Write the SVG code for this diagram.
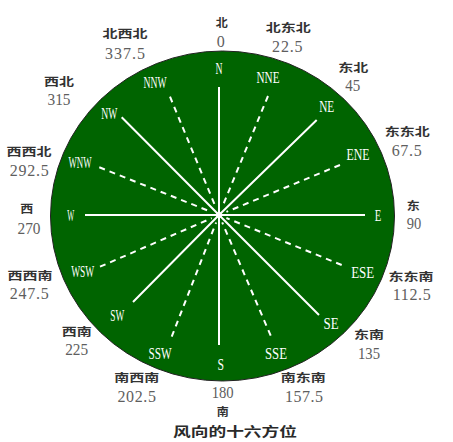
<svg xmlns="http://www.w3.org/2000/svg" width="453" height="442" viewBox="0 0 453 442">
<style>
.in{font-family:"Liberation Serif","Times New Roman",serif;font-size:16px;fill:#ffffff;text-anchor:middle}
.num{font-family:"Liberation Serif","Times New Roman",serif;font-size:16px;fill:#5e5e5e;text-anchor:middle}
.cn{font-family:"Noto Sans CJK SC","Noto Sans",sans-serif;font-size:11px;font-weight:bold;fill:#333333;text-anchor:middle}
.ttl{font-family:"Noto Sans CJK SC","Noto Sans",sans-serif;font-size:13px;font-weight:bold;fill:#2a2a2a;text-anchor:middle}
.solid{stroke:#ffffff;stroke-width:2;fill:none}
.dash{stroke:#ffffff;stroke-width:2;fill:none;stroke-dasharray:6 5}
</style>
<rect width="453" height="442" fill="#ffffff"/>
<g id="dial">
<ellipse cx="222.5" cy="216" rx="172" ry="165" fill="#006400" stroke="#222222" stroke-width="1"/>
</g>
<g id="connectors">
<path class="solid" d="M219 87V215M219 215V345M85 215H365M121.7 117.3L219 215M316.7 120L219 215M319 315L219 215M133 302L219 215"/>
<path class="dash" d="M268 96L222 207.6M170 96.7L215.9 207.6M99.3 167.3L211.6 212M340 165L226.4 211.9M100 266.7L211.7 218.2M341.7 265L226.4 218M171.7 336.7L216.1 222.5M270.7 335.7L222.2 222.4"/>
<circle cx="219" cy="215" r="3" fill="#ffffff"/>
</g>
<g id="dir-N"><text class="in" x="219" y="74.3" textLength="7" lengthAdjust="spacingAndGlyphs">N</text><text class="cn" x="221.7" y="27" textLength="12" lengthAdjust="spacingAndGlyphs">北</text><text class="num" x="220.7" y="47">0</text></g>
<g id="dir-NNE"><text class="in" x="268" y="83" textLength="23" lengthAdjust="spacingAndGlyphs">NNE</text><text class="cn" x="288.3" y="32.3" textLength="45" lengthAdjust="spacingAndGlyphs">北东北</text><text class="num" x="287.3" y="52" textLength="30.5">22.5</text></g>
<g id="dir-NE"><text class="in" x="326.7" y="112" textLength="15" lengthAdjust="spacingAndGlyphs">NE</text><text class="cn" x="353.3" y="72.3" textLength="30" lengthAdjust="spacingAndGlyphs">东北</text><text class="num" x="352.7" y="91.4" textLength="15" lengthAdjust="spacingAndGlyphs">45</text></g>
<g id="dir-ENE"><text class="in" x="358" y="160.3" textLength="23" lengthAdjust="spacingAndGlyphs">ENE</text><text class="cn" x="407.3" y="136.3" textLength="45" lengthAdjust="spacingAndGlyphs">东东北</text><text class="num" x="406.7" y="156" textLength="30">67.5</text></g>
<g id="dir-E"><text class="in" x="378" y="221" textLength="6.5" lengthAdjust="spacingAndGlyphs">E</text><text class="cn" x="413.3" y="210" textLength="13" lengthAdjust="spacingAndGlyphs">东</text><text class="num" x="414" y="229.4" textLength="14.5" lengthAdjust="spacingAndGlyphs">90</text></g>
<g id="dir-ESE"><text class="in" x="362.7" y="278" textLength="23" lengthAdjust="spacingAndGlyphs">ESE</text><text class="cn" x="411" y="281.3" textLength="45" lengthAdjust="spacingAndGlyphs">东东南</text><text class="num" x="411.7" y="300.4" textLength="38">112.5</text></g>
<g id="dir-SE"><text class="in" x="331" y="329.3" textLength="15" lengthAdjust="spacingAndGlyphs">SE</text><text class="cn" x="369" y="339" textLength="30" lengthAdjust="spacingAndGlyphs">东南</text><text class="num" x="369" y="358.7" textLength="22" lengthAdjust="spacingAndGlyphs">135</text></g>
<g id="dir-SSE"><text class="in" x="276" y="358.6" textLength="22" lengthAdjust="spacingAndGlyphs">SSE</text><text class="cn" x="303.3" y="382.3" textLength="45" lengthAdjust="spacingAndGlyphs">南东南</text><text class="num" x="304" y="402" textLength="38">157.5</text></g>
<g id="dir-S"><text class="in" x="220.7" y="369.6" textLength="6.5" lengthAdjust="spacingAndGlyphs">S</text><text class="num" x="222.7" y="398" textLength="22" lengthAdjust="spacingAndGlyphs">180</text><text class="cn" x="222.7" y="416.3" textLength="12" lengthAdjust="spacingAndGlyphs">南</text></g>
<g id="dir-SSW"><text class="in" x="160" y="358.6" textLength="23" lengthAdjust="spacingAndGlyphs">SSW</text><text class="cn" x="136.7" y="382.3" textLength="45" lengthAdjust="spacingAndGlyphs">南西南</text><text class="num" x="136.7" y="402" textLength="38.5">202.5</text></g>
<g id="dir-SW"><text class="in" x="117.3" y="321.3" textLength="14" lengthAdjust="spacingAndGlyphs">SW</text><text class="cn" x="76.7" y="335.7" textLength="30" lengthAdjust="spacingAndGlyphs">西南</text><text class="num" x="76.7" y="355.4" textLength="23" lengthAdjust="spacingAndGlyphs">225</text></g>
<g id="dir-WSW"><text class="in" x="82.7" y="277" textLength="23" lengthAdjust="spacingAndGlyphs">WSW</text><text class="cn" x="30" y="280" textLength="45" lengthAdjust="spacingAndGlyphs">西西南</text><text class="num" x="29.3" y="299.4" textLength="39">247.5</text></g>
<g id="dir-W"><text class="in" x="70.7" y="221" textLength="7" lengthAdjust="spacingAndGlyphs">W</text><text class="cn" x="26.7" y="213.3" textLength="13" lengthAdjust="spacingAndGlyphs">西</text><text class="num" x="29" y="233.7" textLength="23" lengthAdjust="spacingAndGlyphs">270</text></g>
<g id="dir-WNW"><text class="in" x="80" y="168" textLength="23" lengthAdjust="spacingAndGlyphs">WNW</text><text class="cn" x="29" y="156" textLength="45" lengthAdjust="spacingAndGlyphs">西西北</text><text class="num" x="29.3" y="176" textLength="39">292.5</text></g>
<g id="dir-NW"><text class="in" x="109.3" y="118.6" textLength="16" lengthAdjust="spacingAndGlyphs">NW</text><text class="cn" x="59" y="85.7" textLength="30" lengthAdjust="spacingAndGlyphs">西北</text><text class="num" x="59" y="104.7" textLength="23" lengthAdjust="spacingAndGlyphs">315</text></g>
<g id="dir-NNW"><text class="in" x="155" y="88" textLength="23" lengthAdjust="spacingAndGlyphs">NNW</text><text class="cn" x="125" y="38" textLength="45" lengthAdjust="spacingAndGlyphs">北西北</text><text class="num" x="125" y="59" textLength="40">337.5</text></g>
<g id="title"><text class="ttl" x="235" y="435.5" textLength="124" lengthAdjust="spacingAndGlyphs">风向的十六方位</text></g>
</svg>
